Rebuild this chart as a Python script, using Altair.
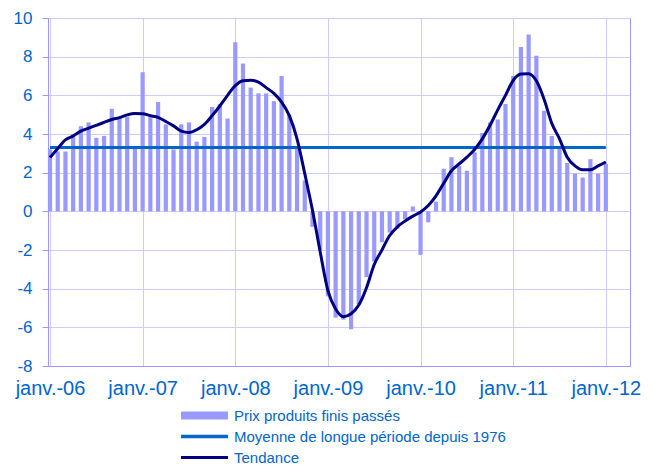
import json
import altair as alt
import pandas as pd

# ---- data (monthly, janv.-06 .. janv.-12) ----
months = list(range(73))
bar_values = [
    3.2, 3.1, 3.1, 4.0, 4.4, 4.6, 3.8, 3.9, 5.3, 4.9, 4.9, 3.3,
    7.2, 4.9, 5.65, 4.5, 3.2, 4.5, 4.6, 3.6, 3.85, 5.4, 5.55, 4.8,
    8.75, 7.65, 6.4, 6.1, 6.1, 5.7, 7.0, 5.0, 3.3, 1.6, -0.8, -2.0,
    -4.4, -5.5, -5.6, -6.1, -4.8, -3.4, -2.6, -1.6, -1.1, -0.9, -0.4, 0.25,
    -2.25, -0.57, 0.5, 2.2, 2.8, 2.35, 2.1, 3.05, 4.05, 4.6, 4.75, 5.55,
    7.0, 8.5, 9.15, 8.05, 5.2, 3.9, 3.3, 2.5, 1.95, 1.75, 2.7, 1.95, 2.45,
]
trend_values = [
    2.78, 3.25, 3.7, 3.9, 4.15, 4.3, 4.45, 4.6, 4.75, 4.85, 4.99, 5.06,
    5.05, 4.95, 4.86, 4.65, 4.42, 4.15, 4.08, 4.22, 4.5, 4.95, 5.45, 6.0,
    6.5, 6.75, 6.78, 6.68, 6.4, 6.1, 5.65, 4.95, 3.75, 1.95, 0.05, -2.1,
    -4.1, -5.05, -5.45, -5.3, -4.85, -3.95, -2.75, -2.0, -1.25, -0.8, -0.5, -0.25,
    -0.03, 0.3, 0.8, 1.45, 2.1, 2.45, 2.8, 3.2, 3.75, 4.45, 5.25, 6.0,
    6.77, 7.1, 7.12, 6.75, 5.8, 4.55, 3.75, 2.8, 2.35, 2.15, 2.15, 2.35, 2.55,
]
long_run_mean = 3.3

tick_positions = [0, 12, 24, 36, 48, 60, 72]
tick_labels = ["janv.-06", "janv.-07", "janv.-08", "janv.-09", "janv.-10", "janv.-11", "janv.-12"]
y_ticks = [-8, -6, -4, -2, 0, 2, 4, 6, 8, 10]

series = ["Prix produits finis passés", "Moyenne de longue période depuis 1976", "Tendance"]
colors = ["#9999FF", "#0066CC", "#000080"]
legend_shapes = [
    "M-3.36,-0.57L3.36,-0.57L3.36,0.57L-3.36,0.57Z",
    "M-3.36,-0.24L3.36,-0.24L3.36,0.24L-3.36,0.24Z",
    "M-3.36,-0.23L3.36,-0.23L3.36,0.23L-3.36,0.23Z",
]

df = pd.DataFrame({
    "m": months,
    "bar": bar_values,
    "trend": trend_values,
    "mean": [long_run_mean] * len(months),
})
legend_df = pd.DataFrame({"serie": series, "m": [0] * 3, "v": [0] * 3})

TEXT = "#0066CC"
GRID = "#CCCCFF"
AXIS = "#9999FF"

label_map = {str(k): v for k, v in zip(tick_positions, tick_labels)}
x_label_expr = f"{json.dumps(label_map, ensure_ascii=False)}[datum.value]"

x_scale = alt.Scale(domain=[-0.26, 75.13], nice=False, zero=False, padding=0)
y_scale = alt.Scale(domain=[-8, 10], nice=False, padding=0)

x_axis = alt.Axis(
    values=tick_positions, tickCount=len(tick_positions) + 2, labelExpr=x_label_expr,
    title=None, grid=True, gridColor=GRID, ticks=False, domainColor=AXIS,
    labelFontSize=20, labelColor=TEXT, labelPadding=12, labelOverlap=False,
    labelFlush=False,
)
y_axis = alt.Axis(
    values=y_ticks, tickCount=len(y_ticks) + 2, labelExpr="'' + datum.value",
    title=None, grid=True, gridColor=GRID, tickColor=AXIS, tickSize=6,
    domainColor=AXIS, labelFontSize=17, labelColor=TEXT, labelPadding=10,
    labelOverlap=False,
)

base = alt.Chart(df)

bars = base.mark_bar(size=4.2, color=colors[0]).encode(
    x=alt.X("m:Q", scale=x_scale, axis=x_axis),
    y=alt.Y("bar:Q", scale=y_scale, axis=y_axis),
)
mean_line = base.mark_line(color=colors[1], strokeWidth=3).encode(
    x=alt.X("m:Q", scale=x_scale),
    y=alt.Y("mean:Q", scale=y_scale),
)
trend_line = base.mark_line(color=colors[2], strokeWidth=3, interpolate="monotone").encode(
    x=alt.X("m:Q", scale=x_scale),
    y=alt.Y("trend:Q", scale=y_scale),
)

leg = alt.Legend(
    orient="none", legendX=149, legendY=390, title=None,
    labelFontSize=15, labelColor=TEXT, labelFont="Liberation Sans", labelLimit=500,
    symbolSize=196, symbolOpacity=1, symbolStrokeWidth=0,
    labelOffset=22, rowPadding=5, padding=0,
)
legend_layer = alt.Chart(legend_df).mark_point(filled=True, opacity=0, size=196).encode(
    x=alt.X("m:Q", scale=x_scale),
    y=alt.Y("v:Q", scale=y_scale),
    color=alt.Color("serie:N", scale=alt.Scale(domain=series, range=colors), legend=leg),
    shape=alt.Shape("serie:N", scale=alt.Scale(domain=series, range=legend_shapes), legend=leg),
)

chart = (
    alt.layer(bars, mean_line, trend_line, legend_layer)
    .properties(
        width=582, height=348,
        autosize=alt.AutoSizeParams(type="none"),
        padding={"left": 40, "top": 10, "right": 16, "bottom": 99},
    )
    .configure(font="Liberation Sans")
    .configure_view(stroke=AXIS, strokeWidth=1)
)

chart.save("out.html", embed_options={"renderer": "svg", "actions": False})
